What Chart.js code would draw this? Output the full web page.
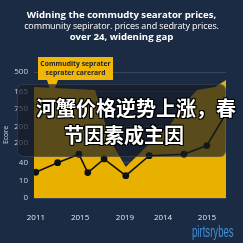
<!DOCTYPE html>
<html>
<head>
<meta charset="utf-8">
<script src="https://cdn.jsdelivr.net/npm/chart.js@4.4.1/dist/chart.umd.min.js"></script>
<style>
  html, body { margin: 0; padding: 0; background: #1c2b44; }
  #wrap { position: relative; width: 243px; height: 243px; overflow: hidden; font-family: "Open Sans", sans-serif; }
  #chart { position: absolute; left: 0; top: 0; }
  .title { position: absolute; left: 0; top: 9px; width: 243px; text-align: center; color: #fff; line-height: 11px; }
  .title .b { font-weight: 700; font-size: 9.6px; }
  .title .r { font-weight: 400; font-size: 9px; letter-spacing: -0.1px; }
  .callout { position: absolute; left: 38px; top: 57px; width: 75px; height: 23px; background: #f2b705;
    color: #18223a; font-size: 6.8px; font-weight: 700; line-height: 9px; text-align: center; padding-top: 2px;
    box-sizing: border-box; white-space: nowrap; }
  .pointer { position: absolute; left: 47px; top: 80px; width: 0; height: 0;
    border-left: 5px solid transparent; border-right: 6px solid transparent; border-top: 16px solid #f2b705; }
  .overlay { position: absolute; left: 17px; top: 84px; width: 209px; height: 73px; border-radius: 6px;
    background: rgba(22, 28, 38, 0.68); border: 1px solid rgba(255,255,255,0.1); box-sizing: border-box; }
  .cn { position: absolute; color: #fff; font-family: "Noto Sans CJK SC", sans-serif; font-weight: 700; font-size: 20px;
    line-height: 20px; white-space: nowrap;
    text-shadow: 0 0 2px #000, 1px 1px 0 #000, -1px -1px 0 #000, 1px -1px 0 #000, -1px 1px 0 #000; }
  .mark { position: absolute; left: 192px; top: 223px; color: #3d8fd8; font-family: "Liberation Sans", sans-serif;
    font-size: 16px; transform: scaleX(0.6); transform-origin: left top; white-space: nowrap; }
</style>
</head>
<body>
<div id="wrap">
  <canvas id="chart" width="243" height="243"></canvas>
  <div class="title">
    <div class="b">Widning the commudty searator prices,</div>
    <div class="r">community sepirator. prices and sedraty prices.</div>
    <div class="b">over 24, widening gap</div>
  </div>
  <div class="pointer"></div>
  <div class="callout">Commudity seprater<br>seprater carerard</div>
  <div class="overlay"></div>
  <div class="cn" style="left:36px; top:98px;">河蟹价格逆势上涨，春</div>
  <div class="cn" style="left:64px; top:125px;">节因素成主因</div>
  <div class="mark">pirtsrybes</div>
</div>
<script>
// axis labels
const xLabels = ["2011", "2015", "2019", "2014", "2015"];
const xTickPos = [1, 24, 47.4, 67.2, 90.1];
const yLabels = ["0", "10", "40", "200", "200", "750", "165", "500"];
const yTickPos = [0, 0.98, 1.98, 3.09, 3.96, 4.98, 5.9, 7];

// black price line
const lineX = [0.9, 12.3, 23.4, 28, 36.5, 47.8, 60, 78.1, 90, 98.9];
const lineY = [1.43, 1.96, 2.43, 1.41, 2.17, 1.24, 2.35, 2.43, 2.91, 4.5];

// yellow band (upper edge)
const bandX = [0, 31.8, 39.6, 47.8, 57.8, 70.8, 80.2, 84.9, 94.3, 100];
const bandY = [6.17, 6.0, 3.22, 1.72, 2.78, 4.06, 5.44, 6.0, 6.17, 6.56];

const tickFont = { family: "Open Sans", size: 8 };

new Chart(document.getElementById("chart"), {
  type: "line",
  data: {
    datasets: [
      {
        label: "price",
        data: lineX.map((x, i) => ({ x: x, y: lineY[i] })),
        borderColor: "#111",
        borderWidth: 1.6,
        pointBackgroundColor: "#111",
        pointBorderColor: "#111",
        pointRadius: (ctx) => (ctx.dataIndex === lineX.length - 1 ? 0 : 2.6),
        fill: false,
        tension: 0,
      },
      {
        label: "band",
        data: bandX.map((x, i) => ({ x: x, y: bandY[i] })),
        borderWidth: 0,
        borderColor: "transparent",
        backgroundColor: "#e8b100",
        pointRadius: 0,
        fill: "origin",
        tension: 0,
      },
    ],
  },
  options: {
    responsive: false,
    animation: false,
    devicePixelRatio: 1,
    layout: { padding: { top: 72, right: 17, left: 0, bottom: 0 } },
    plugins: { legend: { display: false }, tooltip: { enabled: false } },
    scales: {
      x: {
        type: "linear",
        min: 0,
        max: 100,
        afterBuildTicks: (s) => { s.ticks = xTickPos.map((v) => ({ value: v })); },
        afterFit: (s) => { s.height = 45; },
        grid: { display: false },
        border: { display: false },
        ticks: {
          autoSkip: false,
          maxRotation: 0,
          padding: 7,
          color: "#e4e7ec",
          font: tickFont,
          callback: (v, i) => xLabels[i],
        },
      },
      y: {
        type: "linear",
        min: 0,
        max: 7,
        afterBuildTicks: (s) => { s.ticks = yTickPos.map((v) => ({ value: v })); },
        afterFit: (s) => { s.width = 34; },
        grid: { color: "rgba(255,255,255,0.12)", drawTicks: false },
        border: { display: false },
        title: { display: true, text: "Ecore", color: "#d5d9e0", font: { family: "Open Sans", size: 7 }, padding: 2 },
        ticks: {
          autoSkip: false,
          padding: 6,
          color: "#cdd2da",
          font: tickFont,
          callback: (v, i) => yLabels[i],
        },
      },
    },
  },
});
</script>
</body>
</html>
